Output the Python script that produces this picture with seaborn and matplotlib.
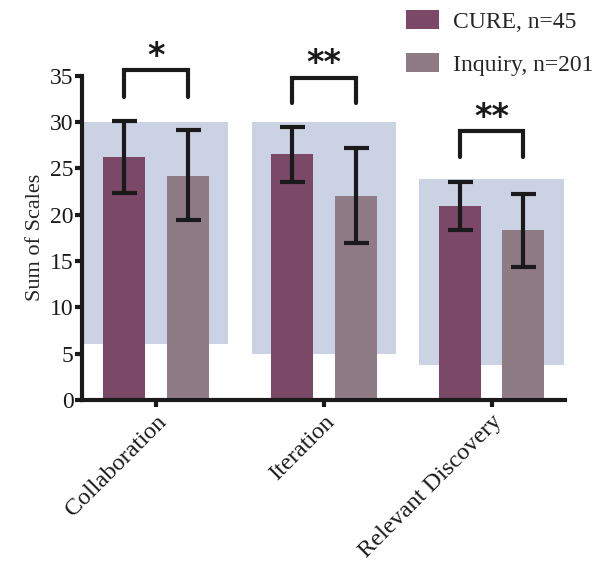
import numpy as np
import pandas as pd
import matplotlib
matplotlib.use("Agg")
import matplotlib.pyplot as plt
import seaborn as sns

categories = ["Collaboration", "Iteration", "Relevant Discovery"]
groups = ["CURE, n=45", "Inquiry, n=201"]

cure_mean = [26.2, 26.5, 20.9]
cure_low = [22.3, 23.5, 18.4]
cure_high = [30.1, 29.5, 23.5]

inquiry_mean = [24.2, 22.0, 18.3]
inquiry_low = [19.4, 16.9, 14.4]
inquiry_high = [29.1, 27.2, 22.2]

# shaded range behind each category
range_low = [6.0, 5.0, 3.8]
range_high = [30.0, 30.0, 23.9]

sig_labels = ["*", "**", "**"]
bracket_top = [35.6, 34.8, 29.0]
bracket_bottom = [32.7, 32.1, 26.2]

colors = ["#7b4868", "#8e7b84"]
shade = "#cbd2e4"
ink = "#1a1a1a"
serif = "Liberation Serif"

sns.set_theme(style="ticks")
plt.rcParams["font.family"] = [serif, "DejaVu Serif"]

df = pd.DataFrame({
    "category": categories * 2,
    "group": [groups[0]] * 3 + [groups[1]] * 3,
    "value": cure_mean + inquiry_mean,
})

fig = plt.figure(figsize=(6.04, 5.61), dpi=100)
ax = fig.add_axes([0.136, 0.287, 0.8, 0.578])

x = np.arange(len(categories))
ax.bar(x, np.array(range_high) - np.array(range_low), bottom=range_low,
       width=0.86, color=shade, zorder=0, linewidth=0)

sns.barplot(data=df, x="category", y="value", hue="group", palette=colors,
            width=0.76, gap=0.34, errorbar=None, saturation=1, linewidth=0,
            ax=ax, zorder=2)

bar_sets = ax.containers[-2:]

# error bars at each bar centre
for bars, (means, lows, highs) in zip(bar_sets, [(cure_mean, cure_low, cure_high),
                                                 (inquiry_mean, inquiry_low, inquiry_high)]):
    xs = [p.get_x() + p.get_width() / 2 for p in bars.patches]
    m = np.array(means)
    yerr = [m - np.array(lows), np.array(highs) - m]
    ax.errorbar(xs, m, yerr=yerr, fmt="none", ecolor=ink, elinewidth=3,
                capsize=9, capthick=3, zorder=4)

# significance brackets
left = bar_sets[0].patches
right = bar_sets[1].patches
for i in range(len(categories)):
    x0 = left[i].get_x() + left[i].get_width() / 2
    x1 = right[i].get_x() + right[i].get_width() / 2
    ax.plot([x0, x0, x1, x1], [bracket_bottom[i], bracket_top[i], bracket_top[i], bracket_bottom[i]],
            color=ink, lw=3, solid_capstyle="round", solid_joinstyle="miter",
            clip_on=False, zorder=5)
    ax.annotate(sig_labels[i], xy=((x0 + x1) / 2, bracket_top[i]), xytext=(0, -2),
                textcoords="offset points", ha="center", va="bottom",
                fontsize=24, fontweight="bold", family="DejaVu Sans",
                color=ink, annotation_clip=False)

ax.set_xlim(-0.44, 2.44)
ax.set_ylim(0, 35)
ax.set_yticks(range(0, 36, 5))
ax.set_yticklabels([str(v) for v in range(0, 36, 5)], family=serif, fontsize=17)
ax.set_xlabel("")
ax.set_ylabel("Sum of Scales", fontsize=16, labelpad=4, family=serif)
ax.tick_params(axis="both", width=3, length=5, color=ink, labelcolor=ink, pad=1)
ax.tick_params(axis="x", pad=3)
ax.set_xticks(x)
ax.set_xticklabels(categories, rotation=45, ha="right", rotation_mode="anchor",
                   family=serif, fontsize=17.5)

sns.despine(ax=ax)
for s in ["left", "bottom"]:
    ax.spines[s].set_linewidth(3)
    ax.spines[s].set_color(ink)

handles, labels = ax.get_legend_handles_labels()
ax.legend(handles, labels, loc="upper left", bbox_to_anchor=(0.664, 0.99),
          bbox_transform=fig.transFigure, frameon=False, borderaxespad=0, borderpad=0.2,
          prop={"family": serif, "size": 17},
          handlelength=1.4, handleheight=0.85, labelspacing=0.85, handletextpad=0.6)

fig.savefig("out.png", dpi=100)
